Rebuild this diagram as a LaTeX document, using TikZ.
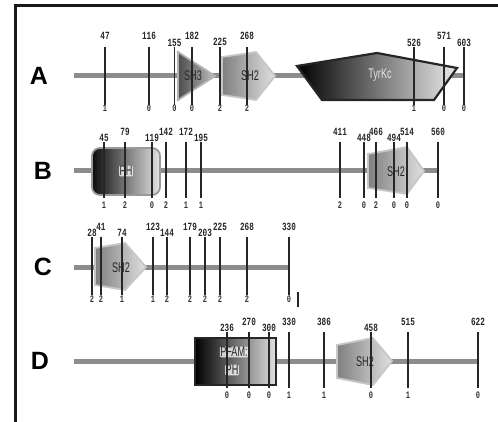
\documentclass[tikz,border=0pt]{standalone}
\usepackage{fontspec}
\newfontfamily\numfont{Liberation Mono}
\newfontfamily\labfont{Liberation Sans}
\usetikzlibrary{positioning}
\newcommand{\narrow}[1]{\scalebox{0.7}[1]{#1}}
\newcommand{\domname}[1]{\scalebox{0.65}[1]{#1}}
\tikzset{
frameline/.style={line width=3pt,black!90},
backbone/.style={line width=5pt,black!45},
tick/.style={black!85,line width=1.1pt},
poslabel/.style={font=\numfont\bfseries\fontsize{11}{11}\selectfont,inner sep=0pt,text=black!85},
cntlabel/.style={font=\numfont\bfseries\fontsize{10}{10}\selectfont,inner sep=0pt,text=black!80},
rowlabel/.style={font=\labfont\bfseries\fontsize{25}{25}\selectfont,inner sep=0pt},
sh2dom/.style={draw=black!22,line width=1.8pt,left color=black!50,right color=black!12},
sh3dom/.style={draw=black!30,line width=1.8pt,left color=black!70,right color=black!25},
phdom/.style={draw=black!40,line width=1.8pt,left color=black!95,right color=black!10,rounded corners=8pt},
pfamdom/.style={draw=black!85,line width=2.5pt,left color=black,right color=black!12},
kindom/.style={draw=black!85,line width=2.2pt,left color=black,right color=black!8},
domtext/.style={font=\labfont\fontsize{14}{14}\selectfont,inner sep=0.5pt,text=black!85},
glowtext/.style={domtext,fill=white,fill opacity=0.75,text opacity=1,rounded corners=1pt},
kintext/.style={domtext,text=black!10}
}

\begin{document}
\begin{tikzpicture}[x=1pt,y=-1pt]
\useasboundingbox (0,0) rectangle (498,422);
\draw[frameline] (498,6) -- (15,6) -- (15,422);

% row A
\node[rowlabel] (rowA) at (39,76) {A};
\coordinate (A0) at (74,76);
\coordinate (A1) at (463,76);
\draw[backbone] (A0) -- (A1);
\draw[sh3dom] (178,52) -- (215,76) -- (178,100) -- cycle;
\draw[sh2dom] (222,57) -- (256,52) -- (275,76) -- (256,100) -- (222,95) -- cycle;
\draw[kindom] (297,66) -- (377,53) -- (457,68) -- (434,100) -- (322,100) -- cycle;
\node[domtext] (sh3A) at (193,76) {\domname{SH3}};
\node[domtext] (sh2A) at (250,76) {\domname{SH2}};
\node[kintext] (kinA) at (380,75) {\domname{TyrKc}};
\foreach \x/\n/\ty/\c [count=\i] in {105/47/36/1,149/116/36/0,174.5/155/43/0,192/182/36/0,220/225/42/2,247/268/36/2,414/526/43/1,444/571/36/0,464/603/43/0}{
  \node[poslabel] (tA\i) at (\x,\ty) {\narrow{\n}};
  \node[cntlabel] (bA\i) at (\x,108) {\narrow{\c}};
  \draw[tick] (\x,47) -- (\x,105);
}

% row B
\node[rowlabel] (rowB) at (43,171) {B};
\coordinate (B0) at (74,171);
\coordinate (B1) at (437,171);
\draw[backbone] (B0) -- (B1);
\draw[phdom] (92,148) rectangle (160,195);
\draw[sh2dom] (368,154) -- (407,147) -- (424,171) -- (407,194) -- (368,188) -- cycle;
\node[glowtext] (phB) at (126,171) {\domname{PH}};
\node[domtext] (sh2B) at (396,172) {\domname{SH2}};
\foreach \x/\n/\ty/\c [count=\i] in {104/45/138/1,125/79/132/2,152/119/138/0,166/142/132/2,186/172/132/1,201/195/138/1,340/411/132/2,364/448/138/0,376/466/132/2,394/494/138/0,407/514/132/0,438/560/132/0}{
  \node[poslabel] (tB\i) at (\x,\ty) {\narrow{\n}};
  \node[cntlabel] (bB\i) at (\x,205) {\narrow{\c}};
  \draw[tick] (\x,142) -- (\x,198);
}

% row C
\node[rowlabel] (rowC) at (43,267) {C};
\coordinate (C0) at (74,267);
\coordinate (C1) at (289,267);
\draw[backbone] (C0) -- (C1);
\draw[sh2dom] (95,248) -- (125,243) -- (146,267) -- (125,290) -- (95,285) -- cycle;
\node[domtext] (sh2C) at (121,268) {\domname{SH2}};
\foreach \x/\n/\ty/\c [count=\i] in {92/28/233/2,101/41/227/2,122/74/233/1,153/123/227/1,167/144/233/2,190/179/227/2,205/203/233/2,220/225/227/2,247/268/227/2,289/330/227/0}{
  \node[poslabel] (tC\i) at (\x,\ty) {\narrow{\n}};
  \node[cntlabel] (bC\i) at (\x,299) {\narrow{\c}};
  \draw[tick] (\x,237) -- (\x,295);
}
\coordinate (barC0) at (298,292);
\coordinate (barC1) at (298,307);
\draw[tick,line width=1.5pt] (barC0) -- (barC1);

% row D
\node[rowlabel] (rowD) at (40,361) {D};
\coordinate (D0) at (74,361);
\coordinate (D1) at (478,361);
\draw[backbone] (D0) -- (D1);
\draw[pfamdom] (195,338) rectangle (276,385);
\draw[sh2dom] (337,345) -- (373,338) -- (392,361) -- (373,385) -- (337,378) -- cycle;
\node[glowtext] (pfamD) at (234,352) {\domname{PFAM:}};
\node[glowtext] (phD) at (232,370) {\domname{PH}};
\node[domtext] (sh2D) at (365,362) {\domname{SH2}};
\foreach \x/\n/\ty/\c [count=\i] in {227/236/328/0,249/270/322/0,269/300/328/0,289/330/322/1,324/386/322/1,371/458/328/0,408/515/322/1,478/622/322/0}{
  \node[poslabel] (tD\i) at (\x,\ty) {\narrow{\n}};
  \node[cntlabel] (bD\i) at (\x,395) {\narrow{\c}};
  \draw[tick] (\x,332) -- (\x,388);
}
\end{tikzpicture}
\end{document}
